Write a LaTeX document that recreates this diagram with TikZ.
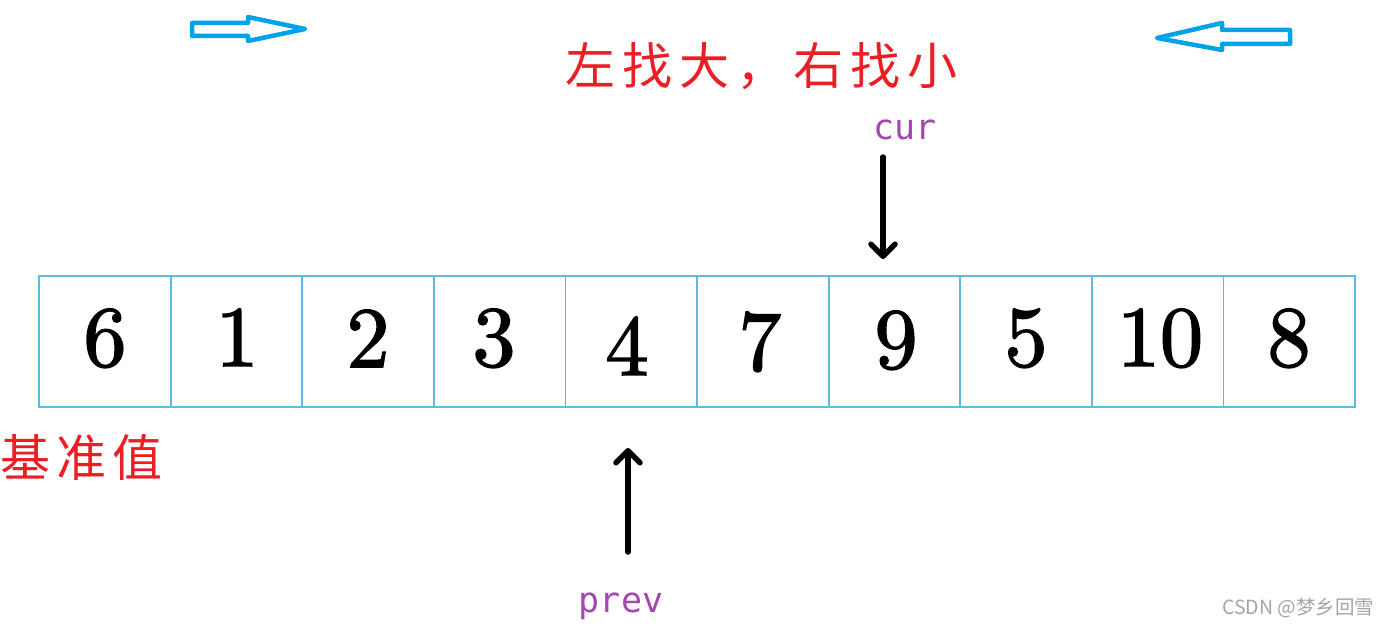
\documentclass[tikz,border=0pt]{standalone}
\usepackage{fontspec}
\newfontfamily\cjk{Noto Sans CJK SC}
\newfontfamily\cjkwide[LetterSpace=14]{Noto Sans CJK SC}
\newfontfamily\cjkmid[LetterSpace=12]{Noto Sans CJK SC}
\newfontfamily\monof{DejaVu Sans Mono}
\newfontfamily\digitfont[FakeBold=1.8]{lmroman10-regular.otf}
\usetikzlibrary{arrows.meta}
\definecolor{cellblue}{RGB}{95,185,225}
\definecolor{arrblue}{RGB}{0,162,232}
\definecolor{redtxt}{RGB}{235,30,38}
\definecolor{ptrpurple}{RGB}{162,72,176}
\definecolor{wmgrey}{RGB}{165,165,165}
\tikzset{
  cellbox/.style={rectangle, draw=cellblue, line width=1.8pt, minimum width=131.6pt, minimum height=131pt, inner sep=0pt},
  numtxt/.style={anchor=base, inner sep=0pt, font=\digitfont\fontsize{86}{90}\selectfont},
  redlabel/.style={anchor=west, inner sep=0pt, text=redtxt},
  ptrlabel/.style={anchor=base, inner sep=0pt, text=ptrpurple, font=\monof\fontsize{35}{38}\selectfont},
  ptrarrow/.style={line width=5.5pt, line cap=round, -{Straight Barb[length=12pt, width=24pt, line cap=round, line join=round]}},
  hollowarrow/.style={draw=arrblue, line width=4.5pt, line join=round}
}
\begin{document}
\begin{tikzpicture}[x=1pt,y=-1pt]
\useasboundingbox (0,0) rectangle (1388,628);
\fill[white] (0,0) rectangle (1388,628);

% cells and numbers
\foreach \i/\v/\nx/\by in {1/6/105/366, 2/1/237/366, 3/2/368/367, 4/3/494/366, 5/4/627/375,
                           6/7/760/370, 7/9/896/368, 8/5/1026/366, 9/10/1160/366, 10/8/1289/366}{
  \node[cellbox] (c\i) at ({39+131.6*(\i-0.5)},341.5) {};
  \node[numtxt] (n\i) at (\nx,\by) {\v};
}

% title texts
\node[redlabel, font=\cjkwide\fontsize{50}{56}\selectfont] (title) at (565,66) {左找大，右找小};
\node[redlabel, font=\cjkmid\fontsize{50}{56}\selectfont] (pivot) at (0,457) {基准值};

% pointer labels
\node[ptrlabel] (cur) at (905,140) {cur};
\node[ptrlabel] (prev) at (621,612) {prev};

\coordinate (curtail) at (883,157);
\coordinate (curtip) at (883,259);
\coordinate (prevtail) at (628,552);
\coordinate (prevtip) at (628,448);
\draw[ptrarrow] (curtail) -- (curtip);
\draw[ptrarrow] (prevtail) -- (prevtip);

% hollow blue direction arrows
\draw[hollowarrow] (192,23) -- (248,23) -- (248,17) -- (305,29) -- (248,41) -- (248,36) -- (192,36) -- cycle;
\draw[hollowarrow] (1290,30) -- (1222,30) -- (1222,23) -- (1157,38) -- (1222,50) -- (1222,44) -- (1290,44) -- cycle;

% watermark
\node[anchor=west, inner sep=0pt, text=wmgrey, font=\cjk\fontsize{19.5}{21}\selectfont] (wm) at (1222,608) {CSDN @梦乡回雪};
\end{tikzpicture}
\end{document}
